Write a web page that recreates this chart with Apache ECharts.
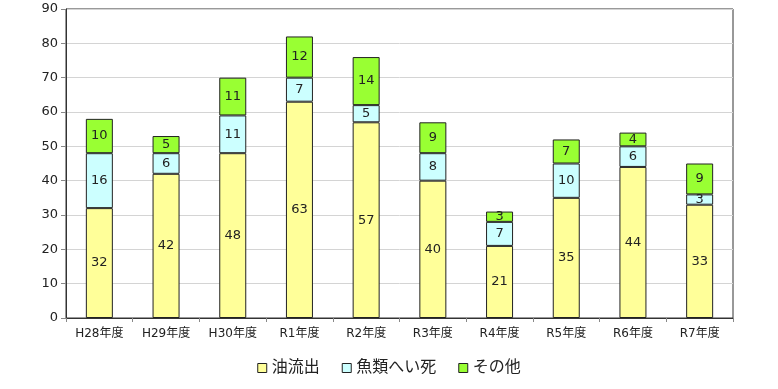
<!DOCTYPE html>
<html><head><meta charset="utf-8">
<script src="https://cdn.jsdelivr.net/npm/echarts@6/dist/echarts.min.js"></script>
<style>html,body{margin:0;padding:0;background:#fff}#c{width:778px;height:389px}</style>
</head><body><div id="c"></div>
<script>
const categories = ['H28年度','H29年度','H30年度','R1年度','R2年度','R3年度','R4年度','R5年度','R6年度','R7年度'];
const oilSpill = [32,42,48,63,57,40,21,35,44,33];
const fishDeath = [16,6,11,7,5,8,7,10,6,3];
const others = [10,5,11,12,14,9,3,7,4,9];
const seriesNames = ['油流出','魚類へい死','その他'];
const yTicks = {min:0,max:90,interval:10};

const font = '"DejaVu Sans", "Noto Sans CJK JP", sans-serif';
const colors = ['#FFFF99','#CCFFFF','#99FF33'];
const chart = echarts.init(document.getElementById('c'));
const mk = (name, data, color) => ({
  name, type:'bar', stack:'a', data, barWidth:27,
  itemStyle:{color, borderColor:'#222', borderWidth:1},
  label:{show:true, position:'inside', color:'#222', fontSize:13, fontFamily:font},
  emphasis:{disabled:true}
});
chart.setOption({
  animation:false,
  textStyle:{fontFamily:font},
  grid:{left:66,right:45,top:9,bottom:71,show:true,borderColor:'#333',borderWidth:1,containLabel:false},
  legend:{bottom:8,left:'center',itemWidth:9,itemHeight:9,itemGap:22,icon:'rect',
    textStyle:{fontSize:16,color:'#222',fontFamily:font},
    data:seriesNames.map((n,i)=>({name:n,itemStyle:{color:colors[i],borderColor:'#222',borderWidth:1}}))},
  xAxis:{type:'category',data:categories,
    axisLine:{lineStyle:{color:'#333'}},
    axisTick:{show:true,length:4,lineStyle:{color:'#888'}},
    axisLabel:{color:'#222',fontSize:12,margin:10,fontFamily:font}},
  yAxis:{type:'value',min:yTicks.min,max:yTicks.max,interval:yTicks.interval,
    axisLine:{show:true,lineStyle:{color:'#333'}},
    axisTick:{show:true,length:5,lineStyle:{color:'#888'}},
    splitLine:{lineStyle:{color:'#d4d4d4'}},
    axisLabel:{color:'#222',fontSize:13,margin:8,fontFamily:font}},
  series:[mk(seriesNames[0],oilSpill,colors[0]),mk(seriesNames[1],fishDeath,colors[1]),mk(seriesNames[2],others,colors[2])]
});
</script></body></html>
